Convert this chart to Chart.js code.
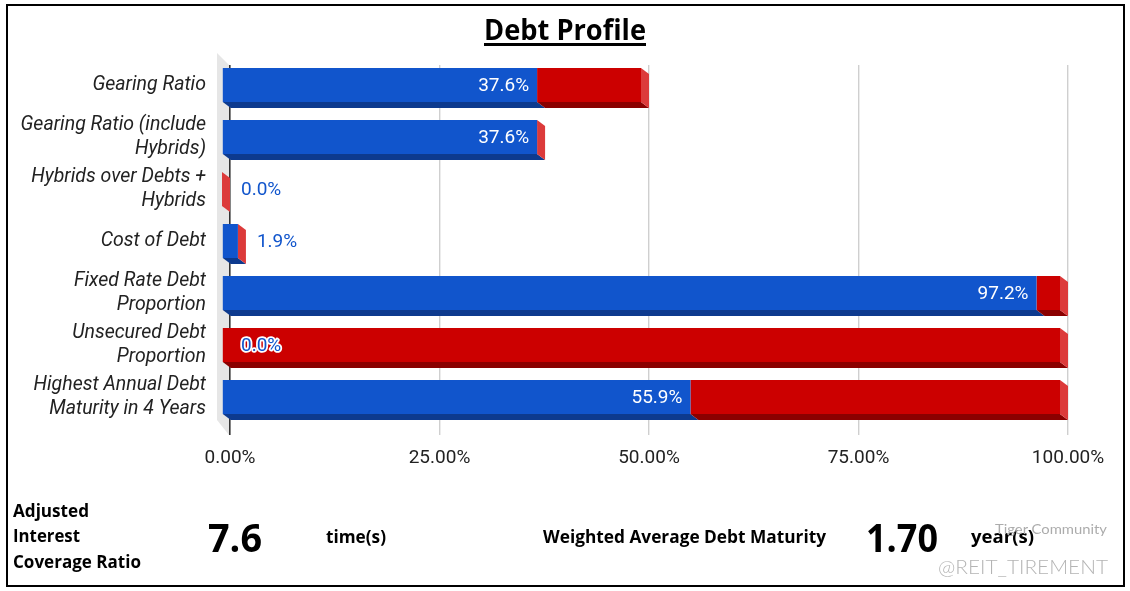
<!DOCTYPE html>
<html>
<head>
<meta charset="utf-8">
<script src="https://cdn.jsdelivr.net/npm/chart.js@4.4.1/dist/chart.umd.min.js"></script>
<style>
  html, body { margin: 0; padding: 0; background: #fff; }
  #wrap { position: relative; width: 1130px; height: 591px; overflow: hidden; background: #fff; }
  #frame { position: absolute; left: 6px; top: 4px; width: 1115px; height: 579px; border: 2px solid #000; }
  canvas { position: absolute; left: 0; top: 0; }
  .t { position: absolute; white-space: nowrap; transform-origin: 0 50%; color: #000; font-family: "Open Sans", "Noto Sans", sans-serif; font-weight: 700; }
</style>
</head>
<body>
<div id="wrap">
  <div id="frame"></div>
  <canvas id="c" width="1130" height="591"></canvas>
  <div class="t" data-w="162" style="left:484px; top:11px; font-size:28px; line-height:36px; text-decoration: underline; text-decoration-thickness: 3px; text-underline-offset: 3px;">Debt Profile</div>
  <div class="t" data-w="76" style="left:13px; top:498px; font-size:17px; line-height:26px;">Adjusted</div>
  <div class="t" data-w="67" style="left:13px; top:523px; font-size:17px; line-height:26px;">Interest</div>
  <div class="t" data-w="128" style="left:13px; top:549px; font-size:17px; line-height:26px;">Coverage Ratio</div>
  <div class="t" data-w="54" style="left:208px; top:515px; font-size:40px; line-height:44px;">7.6</div>
  <div class="t" data-w="60" style="left:326px; top:524px; font-size:17px; line-height:26px;">time(s)</div>
  <div class="t" data-w="283" style="left:543px; top:524px; font-size:17px; line-height:26px;">Weighted Average Debt Maturity</div>
  <div class="t" data-w="72" style="left:866px; top:515px; font-size:40px; line-height:44px;">1.70</div>
  <div class="t" data-w="63" style="left:971px; top:524px; font-size:17px; line-height:26px;">year(s)</div>
  <div class="t" data-w="112" style="left:995px; top:520px; font-size:14px; line-height:18px; color:#acacac; font-weight:400; font-family: Lato, sans-serif;">Tiger Community</div>
  <div class="t" data-w="170" style="left:938px; top:554px; font-size:20px; line-height:24px; color:#b4b4b4; font-weight:300; font-family: Lato, sans-serif;">@REIT_TIREMENT</div>
</div>
<script>
// ---- data ----
const categories = [
  ["Gearing Ratio"],
  ["Gearing Ratio (include", "Hybrids)"],
  ["Hybrids over Debts +", "Hybrids"],
  ["Cost of Debt"],
  ["Fixed Rate Debt", "Proportion"],
  ["Unsecured Debt", "Proportion"],
  ["Highest Annual Debt", "Maturity in 4 Years"]
];
const ratioValues     = [37.6, 37.6, 0.0, 1.9, 97.2, 0.0, 55.9];
const remainderValues = [12.4, 0.0, 0.0, 0.0, 2.8, 100.0, 44.1];
const xTickValues = [0, 25, 50, 75, 100];
const xTickLabels = ["0.00%", "25.00%", "50.00%", "75.00%", "100.00%"];

// ---- styling ----
const BLUE = '#1155cc', RED = '#cc0000';
const bottomColors = ['#0d3a8e', '#8a0000'];
const SIDE = '#dc3a3a';
const DX = 8, DY = 6;

const depthPlugin = {
  id: 'depth3d',
  beforeDatasetsDraw(chart) {
    const ctx = chart.ctx, a = chart.chartArea;
    ctx.save();
    ctx.fillStyle = '#e6e6e6';
    ctx.beginPath();
    ctx.moveTo(a.left - 13, a.top - 12);
    ctx.lineTo(a.left - 1, a.top);
    ctx.lineTo(a.left - 1, a.bottom + 6);
    ctx.lineTo(a.left - 13, a.bottom - 9);
    ctx.closePath();
    ctx.fill();
    ctx.restore();

    ctx.save();
    ctx.translate(-DX, -DY);
    const n = chart.data.labels.length;
    const metas = chart.data.datasets.map((d, i) => chart.getDatasetMeta(i));
    for (let j = 0; j < n; j++) {
      let endX = null, yt = 0, yb = 0;
      metas.forEach((m, di) => {
        const el = m.data[j];
        const p = el.getProps(['x', 'y', 'base', 'height'], true);
        const x0 = Math.min(p.x, p.base), x1 = Math.max(p.x, p.base);
        yt = p.y - p.height / 2; yb = p.y + p.height / 2;
        if (x1 - x0 > 0.5) {
          ctx.fillStyle = bottomColors[di];
          ctx.beginPath();
          ctx.moveTo(x0, yb); ctx.lineTo(x1, yb);
          ctx.lineTo(x1 + DX, yb + DY); ctx.lineTo(x0 + DX, yb + DY);
          ctx.closePath(); ctx.fill();
        }
        endX = endX === null ? x1 : Math.max(endX, x1);
      });
      ctx.fillStyle = SIDE;
      ctx.beginPath();
      ctx.moveTo(endX, yt); ctx.lineTo(endX + DX, yt + DY);
      ctx.lineTo(endX + DX, yb + DY); ctx.lineTo(endX, yb);
      ctx.closePath(); ctx.fill();
    }
  },
  afterDatasetsDraw(chart) {
    const ctx = chart.ctx;
    ctx.restore();
    const meta = chart.getDatasetMeta(0);
    const vals = chart.data.datasets[0].data;
    ctx.save();
    ctx.font = '19px Roboto';
    ctx.textBaseline = 'middle';
    meta.data.forEach((el, i) => {
      const p = el.getProps(['x', 'y', 'base'], true);
      const txt = vals[i].toFixed(1) + '%';
      const w = ctx.measureText(txt).width;
      const end = p.x - DX, yc = p.y - DY + 1;
      if (p.x - p.base > w + 20) {
        ctx.textAlign = 'right';
        ctx.fillStyle = '#ffffff';
        ctx.fillText(txt, end - 8, yc);
      } else {
        ctx.textAlign = 'left';
        ctx.lineWidth = 3.5;
        ctx.lineJoin = 'round';
        ctx.strokeStyle = '#ffffff';
        ctx.strokeText(txt, end + DX + 11, yc);
        ctx.fillStyle = BLUE;
        ctx.fillText(txt, end + DX + 11, yc);
      }
    });
    ctx.restore();
  }
};

new Chart(document.getElementById('c'), {
  type: 'bar',
  data: {
    labels: categories,
    datasets: [
      { data: ratioValues, backgroundColor: BLUE, borderWidth: 0, clip: false },
      { data: remainderValues, backgroundColor: RED, borderWidth: 0, clip: false }
    ]
  },
  options: {
    indexAxis: 'y',
    responsive: false,
    animation: false,
    events: [],
    layout: { padding: { left: 0, right: 62, top: 65, bottom: 0 } },
    datasets: { bar: { categoryPercentage: 1.0, barPercentage: 34 / 52 } },
    plugins: { legend: { display: false }, tooltip: { enabled: false } },
    scales: {
      x: {
        stacked: true, min: 0, max: 100,
        afterBuildTicks(s) { s.ticks = xTickValues.map(v => ({ value: v })); },
        afterFit(s) { s.height = 162; },
        border: { display: false },
        grid: {
          color: c => (c.tick && c.tick.value === 0) ? '#333333' : '#cfcfcf',
          lineWidth: c => (c.tick && c.tick.value === 0) ? 1.6 : 1.4,
          drawTicks: true, tickLength: 6
        },
        ticks: {
          callback: (v, i) => xTickLabels[i],
          font: { family: 'Roboto', size: 19 },
          color: '#222222', padding: 12, maxRotation: 0
        }
      },
      y: {
        stacked: true,
        afterFit(s) { s.width = 230; },
        border: { display: false },
        grid: { display: false, drawTicks: false },
        ticks: {
          font: { family: 'Roboto', size: 19.5, style: 'italic', lineHeight: 1.24 },
          color: '#222222', padding: 24, labelOffset: -6
        }
      }
    }
  },
  plugins: [depthPlugin]
});

function fitTexts() {
  document.querySelectorAll('.t[data-w]').forEach(el => {
    el.style.transform = 'none';
    const w = el.getBoundingClientRect().width;
    const target = parseFloat(el.dataset.w);
    if (w > 0) el.style.transform = 'scaleX(' + (target / w) + ')';
  });
}
fitTexts();
if (document.fonts && document.fonts.ready) document.fonts.ready.then(fitTexts);
</script>
</body>
</html>
